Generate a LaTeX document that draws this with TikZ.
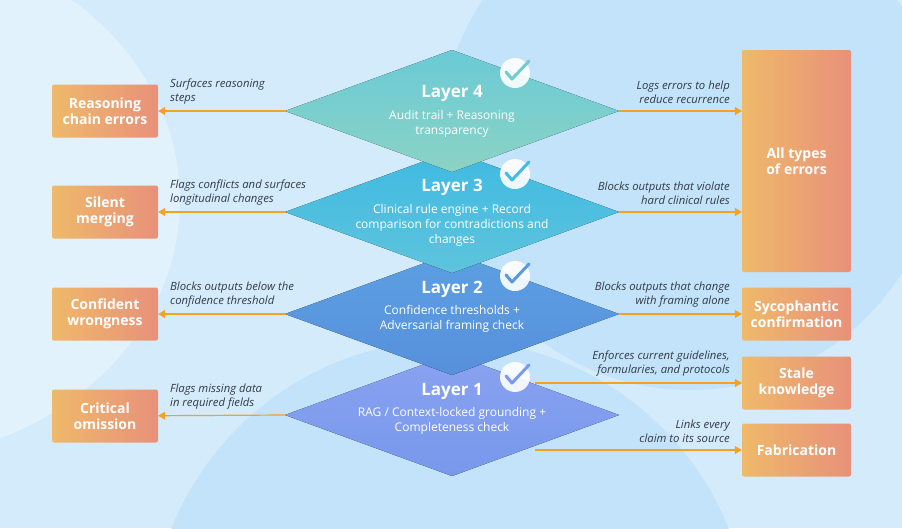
\documentclass[tikz,border=0pt]{standalone}
\usepackage{fontspec}
\setmainfont{Open Sans}
\usetikzlibrary{arrows.meta}
\definecolor{bg}{HTML}{D4EBFB}
\definecolor{blob}{HTML}{C2E3FA}
\definecolor{blobl}{HTML}{E2F2FC}
\definecolor{arr}{HTML}{F5A21E}
\definecolor{oL}{HTML}{EFB96A}
\definecolor{oR}{HTML}{E8917A}
\definecolor{txt}{HTML}{333A44}
\begin{document}
\begin{tikzpicture}[x=1pt,y=-1pt,
 box/.style={rounded corners=2pt,left color=oL,right color=oR,draw=none,text=white,
   font=\fontsize{14}{16}\selectfont\bfseries,align=center,inner sep=0pt},
 lab/.style={font=\fontsize{11.3}{14}\selectfont\itshape,text=txt,inner sep=0pt},
 con/.style={arr,line width=1.2pt,-{Triangle[length=7pt,width=8pt]}},
 ttl/.style={text=white,font=\fontsize{17}{19}\selectfont\bfseries},
 sub/.style={text=white,font=\fontsize{12}{15}\selectfont,align=center},
 chk/.style={line width=3pt,line cap=round,line join=round}]
\useasboundingbox (0,0) rectangle (902,528);
\fill[bg] (0,0) rectangle (902,528);
\begin{scope}
\clip (0,0) rectangle (902,528);
\fill[blob] (690,140) circle (250);
\fill[blobl] (-120,200) ellipse (300 and 260);
\fill[blob] (450,640) circle (300);
\end{scope}
% diamonds
\newcommand\lay[5]{%
 \definecolor{#4top}{HTML}{#2}\definecolor{#4bot}{HTML}{#3}\definecolor{#4chk}{HTML}{#5}%
 \fill[top color=#4top,bottom color=#4bot,draw=none] (452,#1-61) -- (619,#1) -- (452,#1+61) -- (285,#1) -- cycle;
 \coordinate (#4L) at (285,#1); \coordinate (#4R) at (619,#1);
 \fill[white,opacity=.9] (515,#1-38) circle (15);
 \draw[chk,#4chk] (506,#1-39) -- (512,#1-32) -- (529,#1-50);
}
\lay{415}{8AA2F0}{7798EC}{a}{7A9AEE}
\lay{314}{5C9FE2}{5790DC}{b}{5A98E0}
\lay{212}{3FBAE2}{5EC4DC}{c}{45BDE0}
\lay{111}{6ACAD6}{8BD3C4}{d}{72CCCB}
\node[ttl] (t4) at (452,93) {Layer 4};
\node[sub] (s4) at (452,124) {Audit trail + Reasoning\\transparency};
\node[ttl] (t3) at (452,187) {Layer 3};
\node[sub] (s3) at (452,225) {Clinical rule engine + Record\\comparison for contradictions and\\changes};
\node[ttl] (t2) at (452,289) {Layer 2};
\node[sub] (s2) at (452,319) {Confidence thresholds +\\Adversarial framing check};
\node[ttl] (t1) at (452,391) {Layer 1};
\node[sub] (s1) at (452,421) {RAG / Context-locked grounding +\\Completeness check};
% left boxes
\node[box,minimum width=106pt,minimum height=53pt] (b1) at (105,111) {Reasoning\\chain errors};
\node[box,minimum width=106pt,minimum height=53pt] (b2) at (105,212) {Silent\\merging};
\node[box,minimum width=106pt,minimum height=53pt] (b3) at (105,314) {Confident\\wrongness};
\node[box,minimum width=106pt,minimum height=53pt] (b4) at (105,416) {Critical\\omission};
% right boxes
\node[box,minimum width=109pt,minimum height=222pt] (r0) at (796.5,161) {All types\\of errors};
\node[box,minimum width=109pt,minimum height=53pt] (r1) at (796.5,314) {Sycophantic\\confirmation};
\node[box,minimum width=109pt,minimum height=53pt] (r2) at (796.5,383) {Stale\\knowledge};
\node[box,minimum width=109pt,minimum height=53pt] (r3) at (796.5,450) {Fabrication};
\coordinate (sA) at (535,383); \coordinate (fA) at (535,450);
% connectors
\draw[con] (dL) -- (b1);
\draw[con] (cL) -- (b2);
\draw[con] (bL) -- (b3);
\draw[con] (aL) -- (b4);
\draw[con] (dR) -- (dR-|r0.west);
\draw[con] (cR) -- (cR-|r0.west);
\draw[con] (bR) -- (r1);
\draw[con] (sA) -- (r2);
\draw[con] (fA) -- (r3);
% labels
\node[lab,align=left,anchor=south west] (l1) at (170,104) {Surfaces reasoning\\steps};
\node[lab,align=left,anchor=south west] (l2) at (170,205) {Flags conflicts and surfaces\\longitudinal changes};
\node[lab,align=left,anchor=south west] (l3) at (170,307) {Blocks outputs below the\\confidence threshold};
\node[lab,align=left,anchor=south west] (l4) at (170,409) {Flags missing data\\in required fields};
\node[lab,align=right,anchor=south east] (m1) at (730,104) {Logs errors to help\\reduce recurrence};
\node[lab,align=right,anchor=south east] (m2) at (730,205) {Blocks outputs that violate\\hard clinical rules};
\node[lab,align=right,anchor=south east] (m3) at (730,307) {Blocks outputs that change\\with framing alone};
\node[lab,align=right,anchor=south east] (m4) at (730,376) {Enforces current guidelines,\\formularies, and protocols};
\node[lab,align=right,anchor=south east] (m5) at (730,443) {Links every\\claim to its source};
\end{tikzpicture}
\end{document}
